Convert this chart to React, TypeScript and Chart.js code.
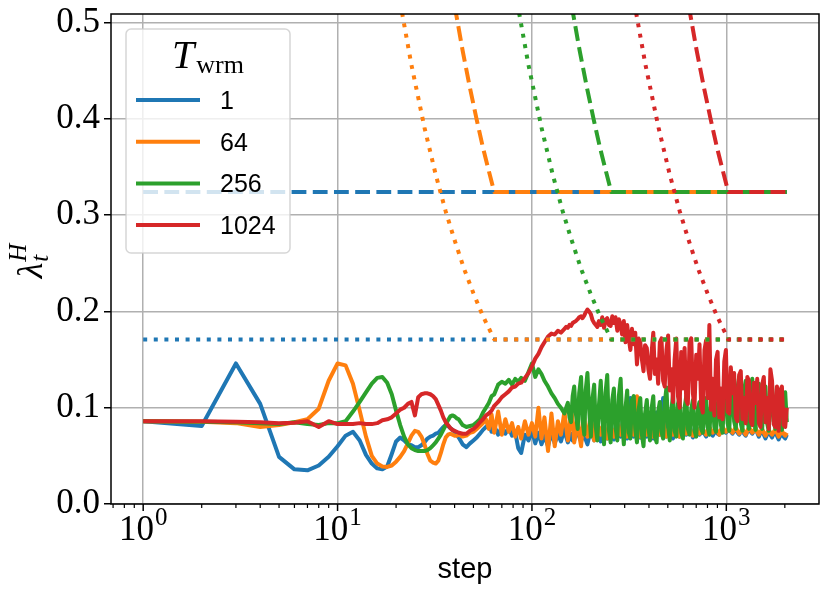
import { useEffect, useRef } from "react"
import { Chart, registerables } from "chart.js"

Chart.register(...registerables)

const warmupLabels = ["1", "64", "256", "1024"]
const seriesColors = ["#1f77b4", "#ff7f0e", "#2ca02c", "#d62728"]

// training steps (every step at the start, log-spaced afterwards)
const steps = [
  1, 2, 3, 4, 5, 6, 7, 8, 9, 10,
  11, 12, 13, 14, 15, 16, 17, 18, 19, 20,
  21, 22, 23, 24, 25, 26, 27, 28, 29, 30,
  31, 32, 33, 34, 35, 36, 37, 38, 39, 40,
  41, 42, 44, 46, 48, 50, 52, 54, 56, 58,
  60, 62, 64, 67, 70, 73, 76, 79, 82, 85,
  88, 92, 96, 100, 104, 108, 112, 116, 121, 126,
  131, 136, 141,
  147, 150, 153, 156, 159, 162, 165, 168, 172, 175,
  179, 182, 186, 189, 193, 197, 201, 205, 209, 213,
  217, 221, 226, 230, 235, 239, 244, 249, 254, 259,
  264, 269, 275, 280, 286, 291, 297, 303, 309, 315,
  321, 327, 334, 340, 347, 354, 361, 368, 375, 382,
  390, 397, 405, 413, 421, 429, 438, 446, 455, 464,
  473, 482, 492, 502, 512, 522, 532, 542, 553, 564,
  575, 586, 598, 610, 622, 634, 647, 660, 673, 686,
  700, 714, 728, 742, 757, 772, 787, 802, 818, 834,
  851, 868, 885, 902, 920, 938, 957, 976, 995, 1015,
  1035, 1055, 1076, 1097, 1119, 1141, 1164, 1187, 1210, 1234,
  1258, 1283, 1308, 1334, 1360, 1387, 1414, 1442, 1470, 1499,
  1529, 1559, 1590, 1621, 1653, 1686, 1719, 1753, 1787, 1822,
  1858, 1895, 1932, 1970, 2009, 2048,
]

const lambdaWarm1 = [
  0.086, 0.081, 0.146, 0.104, 0.049, 0.036, 0.035, 0.04, 0.049, 0.06,
  0.071, 0.075, 0.066, 0.051, 0.042, 0.037, 0.036, 0.039, 0.052, 0.065,
  0.069, 0.066, 0.062, 0.061, 0.059, 0.059, 0.061, 0.064, 0.068, 0.07,
  0.071, 0.073, 0.074, 0.077, 0.08, 0.082, 0.081, 0.079, 0.077, 0.075,
  0.072, 0.069, 0.062, 0.059, 0.063, 0.066, 0.069, 0.073, 0.077, 0.08,
  0.083, 0.075, 0.081, 0.072, 0.08, 0.073, 0.079, 0.071, 0.075, 0.058,
  0.053, 0.072, 0.066, 0.076, 0.063, 0.074, 0.062, 0.071, 0.06, 0.074,
  0.063, 0.072, 0.065,
  0.078, 0.07, 0.064, 0.068, 0.073, 0.066, 0.066, 0.074, 0.079, 0.07,
  0.065, 0.07, 0.072, 0.067, 0.062, 0.07, 0.076, 0.071, 0.066, 0.072,
  0.078, 0.07, 0.065, 0.072, 0.08, 0.073, 0.068, 0.076, 0.084, 0.072,
  0.067, 0.074, 0.082, 0.075, 0.07, 0.08, 0.095, 0.076, 0.068, 0.088,
  0.11, 0.08, 0.07, 0.078, 0.088, 0.074, 0.069, 0.08, 0.092, 0.076,
  0.07, 0.078, 0.088, 0.074, 0.068, 0.082, 0.095, 0.078, 0.072, 0.09,
  0.11, 0.082, 0.07, 0.076, 0.088, 0.075, 0.068, 0.078, 0.085, 0.074,
  0.07, 0.078, 0.084, 0.076, 0.072, 0.076, 0.082, 0.075, 0.069, 0.074,
  0.08, 0.076, 0.072, 0.074, 0.078, 0.073, 0.07, 0.075, 0.079, 0.073,
  0.071, 0.074, 0.077, 0.073, 0.072, 0.076, 0.079, 0.075, 0.074, 0.076,
  0.078, 0.075, 0.073, 0.076, 0.078, 0.074, 0.072, 0.075, 0.077, 0.073,
  0.071, 0.075, 0.079, 0.075, 0.073, 0.076, 0.078, 0.074, 0.07, 0.074,
  0.077, 0.072, 0.068, 0.072, 0.076, 0.072, 0.069, 0.073, 0.075, 0.071,
  0.067, 0.071, 0.074, 0.07, 0.068, 0.072,
]

const lambdaWarm64 = [
  0.086, 0.0855, 0.084, 0.08, 0.082, 0.085, 0.088, 0.099, 0.128, 0.146,
  0.144, 0.125, 0.097, 0.07, 0.05, 0.042, 0.039, 0.0385, 0.04, 0.044,
  0.049, 0.055, 0.063, 0.071, 0.076, 0.075, 0.07, 0.062, 0.052, 0.045,
  0.043, 0.042, 0.045, 0.053, 0.062, 0.069, 0.072, 0.073, 0.072, 0.071,
  0.071, 0.072, 0.07, 0.071, 0.074, 0.075, 0.078, 0.081, 0.084, 0.088,
  0.078, 0.093, 0.074, 0.096, 0.072, 0.088, 0.075, 0.084, 0.07, 0.08,
  0.068, 0.086, 0.072, 0.084, 0.07, 0.1, 0.068, 0.09, 0.055, 0.094,
  0.06, 0.086, 0.072,
  0.096, 0.08, 0.066, 0.078, 0.1, 0.085, 0.064, 0.075, 0.094, 0.072,
  0.06, 0.078, 0.09, 0.074, 0.07, 0.082, 0.092, 0.078, 0.066, 0.08,
  0.086, 0.076, 0.072, 0.08, 0.084, 0.074, 0.068, 0.076, 0.082, 0.074,
  0.07, 0.078, 0.084, 0.076, 0.072, 0.08, 0.09, 0.078, 0.07, 0.085,
  0.1, 0.08, 0.072, 0.085, 0.112, 0.082, 0.07, 0.078, 0.088, 0.076,
  0.072, 0.078, 0.085, 0.076, 0.07, 0.077, 0.084, 0.076, 0.072, 0.079,
  0.086, 0.077, 0.07, 0.076, 0.082, 0.075, 0.072, 0.077, 0.08, 0.074,
  0.07, 0.076, 0.083, 0.077, 0.073, 0.076, 0.079, 0.075, 0.071, 0.075,
  0.08, 0.076, 0.073, 0.075, 0.078, 0.075, 0.072, 0.076, 0.08, 0.077,
  0.074, 0.076, 0.078, 0.075, 0.072, 0.077, 0.08, 0.077, 0.075, 0.077,
  0.079, 0.076, 0.074, 0.077, 0.08, 0.076, 0.073, 0.075, 0.078, 0.075,
  0.072, 0.076, 0.08, 0.077, 0.074, 0.076, 0.079, 0.075, 0.072, 0.075,
  0.078, 0.074, 0.071, 0.074, 0.077, 0.074, 0.072, 0.075, 0.077, 0.074,
  0.07, 0.073, 0.076, 0.073, 0.071, 0.074,
]

const lambdaWarm256 = [
  0.086, 0.0855, 0.085, 0.084, 0.083, 0.085, 0.083, 0.082, 0.084, 0.084,
  0.086, 0.096, 0.106, 0.116, 0.125, 0.131, 0.132, 0.126, 0.114, 0.097,
  0.082, 0.07, 0.062, 0.058, 0.056, 0.055, 0.055, 0.055, 0.056, 0.058,
  0.061, 0.064, 0.068, 0.072, 0.077, 0.082, 0.087, 0.091, 0.092, 0.091,
  0.089, 0.088, 0.082, 0.08, 0.081, 0.082, 0.085, 0.088, 0.095, 0.1,
  0.105, 0.112, 0.114, 0.124, 0.127, 0.125, 0.129, 0.124, 0.13, 0.127,
  0.131, 0.128, 0.137, 0.146, 0.132, 0.14, 0.135, 0.128, 0.122, 0.115,
  0.11, 0.104, 0.1,
  0.094, 0.1, 0.105, 0.09, 0.085, 0.112, 0.122, 0.095, 0.078, 0.115,
  0.132, 0.088, 0.072, 0.118, 0.136, 0.098, 0.07, 0.11, 0.124, 0.08,
  0.066, 0.102, 0.128, 0.09, 0.062, 0.115, 0.134, 0.076, 0.064, 0.108,
  0.12, 0.08, 0.066, 0.112, 0.13, 0.085, 0.062, 0.1, 0.118, 0.074,
  0.068, 0.108, 0.112, 0.078, 0.064, 0.098, 0.11, 0.072, 0.06, 0.094,
  0.108, 0.08, 0.066, 0.1, 0.112, 0.07, 0.064, 0.096, 0.106, 0.075,
  0.068, 0.104, 0.121, 0.08, 0.066, 0.098, 0.114, 0.076, 0.07, 0.104,
  0.11, 0.074, 0.068, 0.1, 0.112, 0.078, 0.072, 0.098, 0.108, 0.076,
  0.07, 0.1, 0.106, 0.078, 0.074, 0.096, 0.11, 0.08, 0.072, 0.104,
  0.108, 0.08, 0.075, 0.102, 0.115, 0.082, 0.074, 0.118, 0.13, 0.084,
  0.076, 0.112, 0.126, 0.086, 0.078, 0.12, 0.132, 0.084, 0.076, 0.118,
  0.128, 0.086, 0.078, 0.116, 0.13, 0.088, 0.077, 0.114, 0.125, 0.084,
  0.078, 0.11, 0.122, 0.084, 0.076, 0.112, 0.124, 0.086, 0.078, 0.108,
  0.118, 0.084, 0.077, 0.106, 0.116, 0.085,
]

const lambdaWarm1024 = [
  0.086, 0.086, 0.0855, 0.085, 0.084, 0.0845, 0.086, 0.08, 0.086, 0.083,
  0.083, 0.083, 0.084, 0.083, 0.083, 0.084, 0.087, 0.088, 0.09, 0.094,
  0.098, 0.1, 0.104, 0.106, 0.092, 0.111, 0.114, 0.115, 0.115, 0.114,
  0.112, 0.109, 0.103, 0.097, 0.09, 0.085, 0.082, 0.079, 0.077, 0.076,
  0.075, 0.074, 0.073, 0.073, 0.076, 0.078, 0.081, 0.085, 0.088, 0.092,
  0.094, 0.097, 0.102, 0.106, 0.111, 0.114, 0.117, 0.121, 0.122, 0.125,
  0.126, 0.131, 0.136, 0.143, 0.151, 0.156, 0.163, 0.168, 0.174, 0.177,
  0.176, 0.18, 0.178,
  0.182, 0.184, 0.183, 0.186, 0.185, 0.188, 0.189, 0.19, 0.192, 0.194,
  0.195, 0.193, 0.196, 0.199, 0.202, 0.2, 0.197, 0.191, 0.188, 0.186,
  0.184, 0.19, 0.186, 0.194, 0.183, 0.191, 0.193, 0.186, 0.185, 0.195,
  0.188, 0.194, 0.18, 0.192, 0.186, 0.176, 0.19, 0.168, 0.186, 0.172,
  0.16, 0.182, 0.166, 0.178, 0.145, 0.172, 0.168, 0.15, 0.138, 0.165,
  0.162, 0.14, 0.13, 0.158, 0.178, 0.135, 0.15, 0.125, 0.168, 0.172,
  0.128, 0.122, 0.16, 0.175, 0.118, 0.14, 0.106, 0.15, 0.172, 0.112,
  0.1, 0.158, 0.12, 0.162, 0.108, 0.104, 0.168, 0.172, 0.115, 0.1,
  0.155, 0.13, 0.166, 0.102, 0.095, 0.16, 0.17, 0.11, 0.186, 0.098,
  0.13, 0.092, 0.15, 0.158, 0.09, 0.12, 0.088, 0.148, 0.16, 0.096,
  0.094, 0.142, 0.115, 0.136, 0.09, 0.086, 0.134, 0.138, 0.088, 0.11,
  0.084, 0.132, 0.128, 0.086, 0.082, 0.126, 0.105, 0.13, 0.084, 0.08,
  0.124, 0.132, 0.085, 0.11, 0.078, 0.14, 0.128, 0.083, 0.08, 0.122,
  0.076, 0.118, 0.122, 0.082, 0.08, 0.1,
]

// reference levels: dashed (upper) and dotted (lower), decaying until each warm-up ends
const flatSteps = [1, 2048]
const dashedFlat = [0.324, 0.324]
const dottedFlat = [0.171, 0.171]

const dashedSteps64 = [40, 44, 48, 52, 56, 60, 64, 2048]
const dashedSteps256 = [160, 176, 192, 208, 224, 240, 256, 2048]
const dashedSteps1024 = [640, 704, 768, 832, 896, 960, 1024, 2048]
const dashedDecay = [0.518, 0.471, 0.432, 0.399, 0.37, 0.346, 0.324, 0.324]

const dottedSteps64 = [21, 24, 28, 32, 36, 40, 45, 50, 56, 64, 2048]
const dottedSteps256 = [84, 96, 112, 128, 144, 160, 180, 200, 224, 256, 2048]
const dottedSteps1024 = [336, 384, 448, 512, 576, 640, 720, 800, 896, 1024, 2048]
const dottedDecay = [0.521, 0.456, 0.391, 0.342, 0.304, 0.274, 0.243, 0.219, 0.195, 0.171, 0.171]

const yTicks = [0, 0.1, 0.2, 0.3, 0.4, 0.5]
const xMajorTicks = [1, 10, 100, 1000]
const xTickExponents = ["0", "1", "2", "3"]
const xMinorTicks = [
  0.7, 0.8, 0.9, 2, 3, 4, 5, 6, 7, 8, 9, 20, 30, 40, 50, 60, 70, 80, 90,
  200, 300, 400, 500, 600, 700, 800, 900, 2000,
]

const serif = "'Liberation Serif', 'Times New Roman', serif"
const sans = "'Liberation Sans', Arial, sans-serif"

const toPoints = (xs: number[], ys: number[]) => xs.map((x, i) => ({ x, y: ys[i] }))

// axis frame, x tick marks/labels, axis titles and the legend box
const decorations = {
  id: "decorations",
  afterDraw(chart: any) {
    const { ctx, chartArea: area, scales } = chart
    const xs = scales.x
    ctx.save()

    ctx.strokeStyle = "#000"
    ctx.lineWidth = 1.5
    ctx.strokeRect(area.left, area.top, area.right - area.left, area.bottom - area.top)

    ctx.lineWidth = 1.2
    xMinorTicks.forEach((v) => {
      const px = xs.getPixelForValue(v)
      ctx.beginPath()
      ctx.moveTo(px, area.bottom)
      ctx.lineTo(px, area.bottom + 4)
      ctx.stroke()
    })
    ctx.lineWidth = 1.5
    xMajorTicks.forEach((v) => {
      const px = xs.getPixelForValue(v)
      ctx.beginPath()
      ctx.moveTo(px, area.bottom)
      ctx.lineTo(px, area.bottom + 7)
      ctx.stroke()
    })

    ctx.fillStyle = "#000"
    ctx.textAlign = "left"
    ctx.textBaseline = "alphabetic"
    xMajorTicks.forEach((v, i) => {
      const px = xs.getPixelForValue(v)
      ctx.font = `35px ${serif}`
      const bw = ctx.measureText("10").width
      ctx.font = `25px ${serif}`
      const ew = ctx.measureText(xTickExponents[i]).width
      const x0 = px - (bw + ew + 1) / 2
      ctx.font = `35px ${serif}`
      ctx.fillText("10", x0, area.bottom + 36)
      ctx.font = `25px ${serif}`
      ctx.fillText(xTickExponents[i], x0 + bw + 1, area.bottom + 21)
    })

    ctx.font = `29px ${sans}`
    ctx.textAlign = "center"
    ctx.fillText("step", (area.left + area.right) / 2, 578)

    // y title: lambda_t^H
    ctx.save()
    ctx.translate(42, (area.top + area.bottom) / 2 + 2)
    ctx.rotate(-Math.PI / 2)
    ctx.textAlign = "left"
    ctx.font = `italic 36px ${serif}`
    const lamW = ctx.measureText("λ").width
    ctx.font = `italic 25px ${serif}`
    const supW = Math.max(ctx.measureText("H").width, ctx.measureText("t").width)
    const sx = -(lamW + 1 + supW) / 2
    ctx.font = `italic 36px ${serif}`
    ctx.fillText("λ", sx, 0)
    ctx.font = `italic 25px ${serif}`
    ctx.fillText("H", sx + lamW + 1, -16)
    ctx.fillText("t", sx + lamW + 1, 6)
    ctx.restore()

    // legend
    const lx = area.left + 15
    const ly = area.top + 15
    const lw = 164
    const lh = 224
    const r = 5
    ctx.beginPath()
    ctx.moveTo(lx + r, ly)
    ctx.arcTo(lx + lw, ly, lx + lw, ly + lh, r)
    ctx.arcTo(lx + lw, ly + lh, lx, ly + lh, r)
    ctx.arcTo(lx, ly + lh, lx, ly, r)
    ctx.arcTo(lx, ly, lx + lw, ly, r)
    ctx.closePath()
    ctx.fillStyle = "rgba(255,255,255,0.8)"
    ctx.fill()
    ctx.strokeStyle = "rgba(204,204,204,0.8)"
    ctx.lineWidth = 1.5
    ctx.stroke()

    ctx.fillStyle = "#000"
    ctx.textAlign = "left"
    ctx.font = `italic 40px ${serif}`
    const tW = ctx.measureText("T").width
    ctx.font = `26px ${serif}`
    const subW = ctx.measureText("wrm").width
    const tx = lx + lw / 2 - (tW + 2 + subW) / 2
    ctx.font = `italic 40px ${serif}`
    ctx.fillText("T", tx, ly + 39)
    ctx.font = `26px ${serif}`
    ctx.fillText("wrm", tx + tW + 2, ly + 44)

    warmupLabels.forEach((label, i) => {
      const yy = ly + 71 + i * 41.7
      ctx.strokeStyle = seriesColors[i]
      ctx.lineWidth = 4
      ctx.beginPath()
      ctx.moveTo(lx + 10, yy)
      ctx.lineTo(lx + 74, yy)
      ctx.stroke()
      ctx.fillStyle = "#000"
      ctx.font = `25px ${sans}`
      ctx.fillText(label, lx + 94, yy + 9)
    })

    ctx.restore()
  },
}

const LambdaChart = () => {
  const canvasRef = useRef<HTMLCanvasElement>(null)
  const chartRef = useRef<Chart | null>(null)

  useEffect(() => {
    if (!canvasRef.current) return
    if (chartRef.current) chartRef.current.destroy()

    const solidSeries = [lambdaWarm1, lambdaWarm64, lambdaWarm256, lambdaWarm1024]
    const dashedLines = [
      toPoints(flatSteps, dashedFlat),
      toPoints(dashedSteps64, dashedDecay),
      toPoints(dashedSteps256, dashedDecay),
      toPoints(dashedSteps1024, dashedDecay),
    ]
    const dottedLines = [
      toPoints(flatSteps, dottedFlat),
      toPoints(dottedSteps64, dottedDecay),
      toPoints(dottedSteps256, dottedDecay),
      toPoints(dottedSteps1024, dottedDecay),
    ]

    const base = {
      borderWidth: 4,
      pointRadius: 0,
      tension: 0,
      fill: false,
      clip: 0,
      borderJoinStyle: "round" as const,
    }

    const drawList: any[] = []
    solidSeries.forEach((vals, i) => {
      drawList.push({ ...base, label: warmupLabels[i], data: toPoints(steps, vals), borderColor: seriesColors[i] })
    })
    warmupLabels.forEach((_, i) => {
      drawList.push({ ...base, data: dashedLines[i], borderColor: seriesColors[i], borderDash: [14.8, 6.4] })
      drawList.push({ ...base, data: dottedLines[i], borderColor: seriesColors[i], borderDash: [4, 6.6] })
    })
    // first in list ends up at the bottom
    const datasets = drawList.map((d, k) => ({ ...d, order: 100 - k }))

    chartRef.current = new Chart(canvasRef.current, {
      type: "line",
      data: { datasets },
      options: {
        animation: false,
        responsive: false,
        events: [],
        layout: { padding: { top: 14, right: 11, left: 0, bottom: 0 } },
        plugins: { legend: { display: false }, tooltip: { enabled: false } },
        scales: {
          x: {
            type: "logarithmic",
            min: 0.683,
            max: 2998,
            afterBuildTicks: (scale: any) => {
              scale.ticks = xMajorTicks.map((v) => ({ value: v, major: true }))
            },
            afterFit: (scale: any) => {
              scale.height = 92
              scale.paddingLeft = 0
              scale.paddingRight = 0
            },
            grid: { color: "#b0b0b0", lineWidth: 1.5, drawTicks: false },
            border: { display: false },
            ticks: { display: false },
          },
          y: {
            type: "linear",
            min: 0,
            max: 0.509,
            afterBuildTicks: (scale: any) => {
              scale.ticks = yTicks.map((v) => ({ value: v }))
            },
            afterFit: (scale: any) => {
              scale.width = 111
              scale.paddingTop = 0
              scale.paddingBottom = 0
            },
            grid: { color: "#b0b0b0", lineWidth: 1.5, tickColor: "#000", tickLength: 7, tickWidth: 1.5 },
            border: { display: false },
            ticks: {
              color: "#000",
              padding: 4,
              font: { family: serif, size: 35 },
              callback: (v: any) => Number(v).toFixed(1),
            },
          },
        },
      },
      plugins: [decorations],
    })

    return () => {
      if (chartRef.current) {
        chartRef.current.destroy()
        chartRef.current = null
      }
    }
  }, [])

  return (
    <div style={{ position: "absolute", left: 0, top: 0, width: 830, height: 596 }}>
      <canvas ref={canvasRef} width={830} height={596} />
    </div>
  )
}

export default function App() {
  return <LambdaChart />
}
